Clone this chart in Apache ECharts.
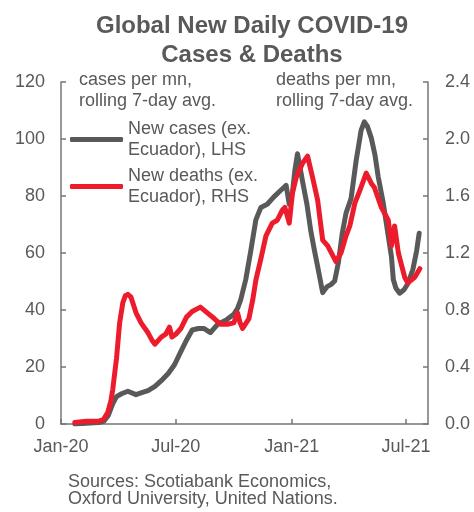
<!DOCTYPE html>
<html>
<head>
<meta charset="utf-8">
<title>Global New Daily COVID-19 Cases & Deaths</title>
<script src="https://cdn.jsdelivr.net/npm/echarts@6/dist/echarts.min.js"></script>
<style>
  html, body { margin: 0; padding: 0; background: #fff; }
  #chart { width: 474px; height: 512px; }
</style>
</head>
<body>
<div id="chart"></div>
<script>
// cases per mn, rolling 7-day avg. (LHS)
var caseDates = [
  '2020-01-23', '2020-02-10', '2020-03-01', '2020-03-09', '2020-03-16', '2020-03-23', '2020-03-29',
  '2020-04-06', '2020-04-16', '2020-04-29', '2020-05-08', '2020-05-18', '2020-05-29', '2020-06-08',
  '2020-06-19', '2020-06-29', '2020-07-09', '2020-07-18', '2020-07-27', '2020-08-06', '2020-08-15',
  '2020-08-25', '2020-09-05', '2020-09-19', '2020-10-01', '2020-10-07', '2020-10-12', '2020-10-20',
  '2020-10-28', '2020-11-05', '2020-11-13', '2020-11-23', '2020-12-04', '2020-12-15', '2020-12-23',
  '2020-12-28', '2021-01-02', '2021-01-06', '2021-01-10', '2021-01-13', '2021-01-18', '2021-01-25',
  '2021-01-31', '2021-02-06', '2021-02-11', '2021-02-19', '2021-02-26', '2021-03-04', '2021-03-10',
  '2021-03-16', '2021-03-22', '2021-03-28', '2021-04-05', '2021-04-13', '2021-04-21', '2021-04-26',
  '2021-05-01', '2021-05-07', '2021-05-13', '2021-05-18', '2021-05-26', '2021-06-03', '2021-06-08',
  '2021-06-11', '2021-06-15', '2021-06-21', '2021-06-28', '2021-07-04', '2021-07-12', '2021-07-18',
  '2021-07-22'
];
var caseValues = [
  0, 0.3, 0.5, 1, 3, 7.1, 9.6,
  10.6, 11.5, 10.3, 11, 11.7, 13.2, 15.2,
  17.7, 20.8, 25.4, 29.4, 33, 33.5, 33.5,
  32.1, 34.9, 36.5, 38.5, 40.6, 43.6, 50.7,
  60.8, 71.6, 76, 77.1, 79.8, 82.1, 83.7,
  77.1, 81.1, 89.2, 94.8, 91.3, 85.2, 77.1,
  67.9, 60.8, 55.3, 46.1, 48.2, 48.9, 50.2,
  56.8, 66.9, 74, 79.1, 92.3, 103.1, 106,
  104.4, 100.4, 94.3, 86.8, 77.6, 65.9, 58.8,
  50.7, 47.7, 45.9, 47.1, 49.2, 54.2, 60.8,
  66.9
];

// deaths per mn, rolling 7-day avg. (RHS)
var deathDates = [
  '2020-01-23', '2020-02-10', '2020-03-01', '2020-03-08', '2020-03-15', '2020-03-20', '2020-03-23',
  '2020-03-29', '2020-04-03', '2020-04-08', '2020-04-12', '2020-04-16', '2020-04-21', '2020-04-29',
  '2020-05-07', '2020-05-18', '2020-05-24', '2020-05-29', '2020-06-08', '2020-06-15', '2020-06-21',
  '2020-06-25', '2020-07-01', '2020-07-09', '2020-07-18', '2020-07-27', '2020-08-09', '2020-08-20',
  '2020-08-31', '2020-09-10', '2020-09-21', '2020-10-01', '2020-10-07', '2020-10-11', '2020-10-15',
  '2020-10-25', '2020-10-31', '2020-11-05', '2020-11-13', '2020-11-21', '2020-12-01', '2020-12-09',
  '2020-12-17', '2020-12-21', '2020-12-28', '2021-01-02', '2021-01-08', '2021-01-18', '2021-01-26',
  '2021-02-03', '2021-02-11', '2021-02-19', '2021-02-27', '2021-03-12', '2021-03-20', '2021-03-28',
  '2021-04-03', '2021-04-11', '2021-04-19', '2021-04-29', '2021-05-07', '2021-05-12', '2021-05-23',
  '2021-06-03', '2021-06-08', '2021-06-13', '2021-06-19', '2021-06-29', '2021-07-04', '2021-07-15',
  '2021-07-23'
];
var deathValues = [
  0.01, 0.02, 0.02, 0.03, 0.08, 0.16, 0.24,
  0.46, 0.71, 0.85, 0.90, 0.91, 0.89, 0.78,
  0.71, 0.64, 0.59, 0.56, 0.61, 0.63, 0.68,
  0.61, 0.63, 0.67, 0.75, 0.79, 0.82, 0.78,
  0.74, 0.70, 0.70, 0.71, 0.78, 0.71, 0.67,
  0.74, 0.87, 1.01, 1.16, 1.32, 1.41, 1.43,
  1.50, 1.52, 1.41, 1.62, 1.73, 1.83, 1.88,
  1.73, 1.57, 1.29, 1.25, 1.14, 1.20, 1.32,
  1.39, 1.55, 1.64, 1.76, 1.69, 1.66, 1.52,
  1.43, 1.25, 1.39, 1.20, 1.03, 0.99, 1.03,
  1.09
];

var xTickDates = ['2020-01-01', '2020-07-01', '2021-01-01', '2021-07-01'];
var xTickLabels = ['Jan-20', 'Jul-20', 'Jan-21', 'Jul-21'];
var xStart = '2020-01-01';
var xEnd = '2021-08-05';

var FONT = 'Liberation Sans, Arial, sans-serif';
var GREY = '#595959';
var RED = '#ec1c2d';
var AXIS = '#767676';

var chart = echarts.init(document.getElementById('chart'));

function stamp(d) {
  return +echarts.time.parse(d);
}

function zip(dates, values) {
  return dates.map(function (d, i) { return [stamp(d), values[i]]; });
}

var tickStamps = xTickDates.map(stamp);

function legendItem(name, top) {
  return {
    data: [name],
    left: 70,
    top: top,
    padding: 0,
    icon: 'roundRect',
    itemWidth: 53,
    itemHeight: 5,
    itemGap: 0,
    selectedMode: false,
    textStyle: {
      color: GREY,
      fontSize: 18,
      fontFamily: FONT,
      lineHeight: 21,
      padding: [21, 0, 0, 0]
    }
  };
}

chart.setOption({
  animation: false,
  title: {
    text: 'Global New Daily COVID-19\nCases & Deaths',
    left: 247,
    top: 7,
    textAlign: 'center',
    textStyle: {
      color: GREY,
      fontSize: 24,
      fontWeight: 'bold',
      fontFamily: FONT,
      lineHeight: 29
    }
  },
  legend: [
    legendItem('New cases (ex.\nEcuador), LHS', 108),
    legendItem('New deaths (ex.\nEcuador), RHS', 155)
  ],
  grid: {
    left: 61,
    right: 46,
    top: 82,
    bottom: 88,
    containLabel: false
  },
  xAxis: {
    type: 'value',
    min: stamp(xStart),
    max: stamp(xEnd),
    splitLine: { show: false },
    axisLine: { lineStyle: { color: AXIS, width: 1.5 } },
    axisTick: {
      inside: true,
      length: 5,
      customValues: tickStamps,
      lineStyle: { color: AXIS, width: 1.5 }
    },
    axisLabel: {
      customValues: tickStamps,
      margin: 14,
      color: GREY,
      fontSize: 18,
      fontFamily: FONT,
      formatter: function (v) {
        var i = tickStamps.indexOf(+v);
        return i >= 0 ? xTickLabels[i] : '';
      }
    }
  },
  yAxis: [{
    type: 'value',
    min: 0,
    max: 120,
    interval: 20,
    splitLine: { show: false },
    axisLine: { show: true, lineStyle: { color: AXIS, width: 1.5 } },
    axisTick: { show: true, inside: true, length: 5, lineStyle: { color: AXIS, width: 1.5 } },
    axisLabel: { margin: 16, color: GREY, fontSize: 18, fontFamily: FONT }
  }, {
    type: 'value',
    position: 'right',
    min: 0,
    max: 2.4,
    interval: 0.4,
    splitLine: { show: false },
    axisLine: { show: true, lineStyle: { color: AXIS, width: 1.5 } },
    axisTick: { show: true, inside: true, length: 5, lineStyle: { color: AXIS, width: 1.5 } },
    axisLabel: {
      margin: 17,
      color: GREY,
      fontSize: 18,
      fontFamily: FONT,
      formatter: function (v) { return v.toFixed(1); }
    }
  }],
  graphic: [{
    type: 'text',
    left: 79,
    top: 70,
    style: {
      text: 'cases per mn,\nrolling 7-day avg.',
      font: '18px ' + FONT,
      lineHeight: 21,
      fill: GREY
    }
  }, {
    type: 'text',
    right: 61,
    top: 70,
    style: {
      text: 'deaths per mn,\nrolling 7-day avg.',
      font: '18px ' + FONT,
      lineHeight: 21,
      align: 'right',
      fill: GREY
    }
  }, {
    type: 'text',
    left: 68,
    top: 473,
    style: {
      text: 'Sources: Scotiabank Economics,\nOxford University, United Nations.',
      font: '18px ' + FONT,
      lineHeight: 17,
      fill: GREY
    }
  }],
  series: [{
    name: 'New cases (ex.\nEcuador), LHS',
    type: 'line',
    yAxisIndex: 0,
    showSymbol: false,
    color: GREY,
    lineStyle: { color: GREY, width: 5, cap: 'round', join: 'round' },
    data: zip(caseDates, caseValues)
  }, {
    name: 'New deaths (ex.\nEcuador), RHS',
    type: 'line',
    yAxisIndex: 1,
    showSymbol: false,
    color: RED,
    lineStyle: { color: RED, width: 5, cap: 'round', join: 'round' },
    data: zip(deathDates, deathValues)
  }]
});
</script>
</body>
</html>
